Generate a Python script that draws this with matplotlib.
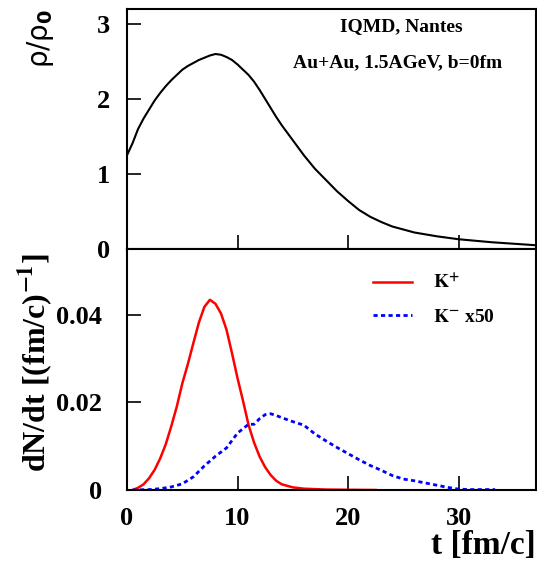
import numpy as np
import matplotlib.pyplot as plt

plt.rcParams['font.family'] = ['Liberation Serif', 'DejaVu Serif']
plt.rcParams['font.weight'] = 'bold'
plt.rcParams['mathtext.fontset'] = 'stix'

# density rho/rho0 vs time
t_rho = [0, 0.5, 1, 1.5, 2, 2.5, 3, 3.5, 4, 4.5, 5, 5.5, 6, 6.5, 7, 7.5, 8, 8.5, 9, 9.5,
         10, 10.5, 11, 11.5, 12, 12.5, 13, 13.5, 14, 14.5, 15, 15.5, 16, 17, 18, 19, 20,
         21, 22, 23, 24, 25, 26, 28, 30, 33, 37]
rho = [1.25, 1.41, 1.6, 1.74, 1.86, 1.98, 2.08, 2.17, 2.25, 2.32, 2.39, 2.44, 2.48, 2.52,
       2.55, 2.58, 2.6, 2.59, 2.56, 2.52, 2.46, 2.39, 2.32, 2.23, 2.12, 2.0, 1.88, 1.76,
       1.65, 1.55, 1.45, 1.35, 1.25, 1.07, 0.92, 0.77, 0.64, 0.52, 0.43, 0.36, 0.3, 0.26,
       0.22, 0.17, 0.13, 0.09, 0.05]

# K+ production rate
t_kp = [0.5, 1, 1.5, 2, 2.5, 3, 3.5, 4, 4.5, 5, 5.5, 6, 6.5, 7, 7.5, 8, 8.5, 9, 9.5, 10,
        10.5, 11, 11.5, 12, 12.5, 13, 13.5, 14, 15, 16, 18, 20, 22.5]
kp = [0, 0.0005, 0.0013, 0.0027, 0.0046, 0.0072, 0.0104, 0.0145, 0.019, 0.0243, 0.0287,
      0.0335, 0.0382, 0.0418, 0.0434, 0.0425, 0.0403, 0.0366, 0.0312, 0.0255, 0.0203,
      0.0148, 0.0108, 0.0076, 0.0052, 0.0034, 0.0021, 0.0013, 0.0006, 0.0003, 0.0001,
      0.00005, 0]

# K- production rate (x50)
t_km = [0.5, 2, 3, 4, 5, 6, 7, 8, 9, 10, 11, 11.5, 12, 12.5, 13, 13.5, 14, 15, 16, 17,
        18, 19, 20, 21, 22, 23, 24, 25, 26, 27, 28, 29, 30, 31, 33.3]
km = [0, 0.0001, 0.0003, 0.0007, 0.0014, 0.003, 0.0055, 0.0077, 0.0096, 0.013, 0.015,
      0.015, 0.0163, 0.0172, 0.0174, 0.017, 0.0165, 0.0156, 0.0148, 0.0128, 0.0112,
      0.0097, 0.0083, 0.0069, 0.0056, 0.0045, 0.0033, 0.0025, 0.0021, 0.0016, 0.0011,
      0.0006, 0.0002, 0.0001, 0.0001]

W, H = 537, 563
fig = plt.figure(figsize=(W / 100, H / 100), dpi=100)
left = 127 / W
width = 409 / W
ax1 = fig.add_axes([left, 1 - 249 / H, width, 240 / H])
ax2 = fig.add_axes([left, 1 - 490 / H, width, 241 / H])

ax1.plot(t_rho, rho, color='black', lw=1.5)
ax2.plot(t_kp, kp, color='red', lw=1.8, label=r'$\mathbf{K^{+}}$')
ax2.plot(t_km, km, color='blue', lw=2, linestyle=(0, (1.5, 1.2)),
         label=r'$\mathbf{K^{-}}$ x50')

for ax in (ax1, ax2):
    ax.set_xlim(0, 37)
    ax.set_xticks([0, 10, 20, 30])
    ax.tick_params(direction='in', length=10, width=1.2, top=False, right=False,
                   labelsize=19)
    for sp in ax.spines.values():
        sp.set_linewidth(1.5)

ax1.set_ylim(0, 3.2)
ax1.set_yticks([0, 1, 2, 3])
ax1.tick_params(axis='x', labelbottom=False)
ax1.tick_params(axis='y', pad=12)

ax2.set_ylim(0, 0.055)
ax2.set_yticks([0, 0.02, 0.04])
ax2.set_yticklabels(['0', '0.02', '0.04'])
ax2.tick_params(axis='y', pad=18)
ax2.tick_params(axis='x', pad=12)

ax1.text(0.67, 0.925, 'IQMD, Nantes', transform=ax1.transAxes, ha='center',
         va='center', fontsize=14, fontweight='bold')
ax1.text(0.662, 0.775, 'Au+Au, 1.5AGeV, b=0fm', transform=ax1.transAxes, ha='center',
         va='center', fontsize=14, fontweight='bold')

fig.text(40 / W, 1 - 38 / H, 'ρ/ρ$_\\mathbf{0}$', rotation=90, ha='center', va='center',
         fontsize=20, fontweight='normal', family=['DejaVu Sans'],
         math_fontfamily='dejavusans')
fig.text(35 / W, 1 - 362 / H, r'dN/dt [(fm/c)$^{\mathbf{-1}}$]', rotation=90,
         ha='center', va='center', fontsize=23, fontweight='bold')
fig.text(536 / W, 1 - 546 / H, 't [fm/c]', ha='right', va='center', fontsize=24,
         fontweight='bold')

ax2.legend(loc='upper left', bbox_to_anchor=(373 / W, 1 - 274 / H),
           bbox_transform=fig.transFigure, frameon=False, fontsize=14,
           handlelength=2.0, handletextpad=1.1, labelspacing=0.8,
           borderpad=0, borderaxespad=0)

fig.savefig('out.png', dpi=100)
